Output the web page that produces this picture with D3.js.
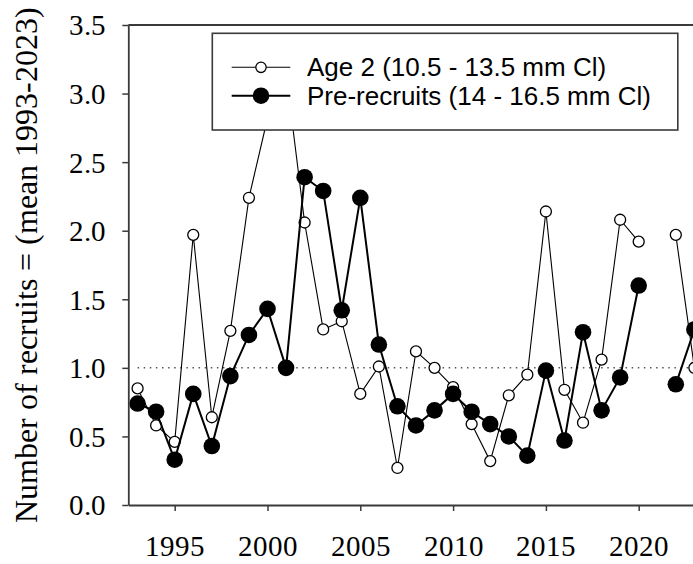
<!DOCTYPE html>
<html>
<head>
<meta charset="utf-8">
<script src="https://cdn.jsdelivr.net/npm/d3@7"></script>
<style>
  @font-face { font-family: "TNRLocal"; src: local("Liberation Serif"), local("LiberationSerif"), local("LiberationSerif-Regular"), local("Times New Roman"), local("DejaVu Serif"), local("DejaVuSerif"), local("Noto Serif"), local("NotoSerif-Regular"); }
  html, body { margin: 0; padding: 0; background: #fff; }
  svg { display: block; }
  .serif, .serif text { font-family: "TNRLocal", "Liberation Serif", "Times New Roman", serif !important; }
  .sans { font-family: "Liberation Sans", Arial, Helvetica, sans-serif; }
</style>
</head>
<body>
<svg id="chart" width="693" height="564"></svg>
<script>
const years = [1993,1994,1995,1996,1997,1998,1999,2000,2001,2002,2003,2004,2005,2006,2007,2008,2009,2010,2011,2012,2013,2014,2015,2016,2017,2018,2019,2020,2021,2022,2023];
const age2 = [0.85,0.58,0.46,1.97,0.64,1.27,2.24,2.82,3.15,2.06,1.28,1.34,0.81,1.01,0.27,1.12,1.00,0.86,0.59,0.32,0.80,0.95,2.14,0.84,0.60,1.06,2.08,1.92,null,1.97,1.00];
const preRecruits = [0.74,0.68,0.33,0.81,0.43,0.94,1.24,1.43,1.00,2.39,2.29,1.42,2.24,1.17,0.72,0.58,0.69,0.81,0.68,0.59,0.50,0.36,0.98,0.47,1.26,0.69,0.93,1.60,null,0.88,1.28];
const xTicks = [1995,2000,2005,2010,2015,2020];
const yTicks = [0,0.5,1.0,1.5,2.0,2.5,3.0,3.5];
const meanLevel = 1.0;
const seriesNames = ["Age 2 (10.5 - 13.5 mm Cl)", "Pre-recruits (14 - 16.5 mm Cl)"];
const yTitle = "Number of recruits = (mean 1993-2023)";

(function () {
const svg = d3.select("#chart");
const mLeft = 128.3, mTop = 25, mBottom = 505;
const x = d3.scaleLinear().domain([1992.5, 2024.5]).range([mLeft, mLeft + 32 * 18.56]);
const y = d3.scaleLinear().domain([0, 3.5]).range([mBottom, mTop]);
const axisColor = "#3a3a3a";

// reference line
svg.append("line")
  .attr("x1", x(years[0])).attr("x2", x(years[years.length - 1]))
  .attr("y1", y(meanLevel)).attr("y2", y(meanLevel))
  .attr("stroke", "#555").attr("stroke-width", 1.5)
  .attr("stroke-dasharray", "1.5,4.6");

const pts = (vals) => years.map((yr, i) => ({yr, v: vals[i]}));
const line = d3.line().defined(d => d.v != null).x(d => x(d.yr)).y(d => y(d.v));

// Age 2
svg.append("path").datum(pts(age2)).attr("d", line)
  .attr("fill", "none").attr("stroke", "#000").attr("stroke-width", 1.1);
svg.append("g").selectAll("circle").data(pts(age2).filter(d => d.v != null)).join("circle")
  .attr("cx", d => x(d.yr)).attr("cy", d => y(d.v)).attr("r", 5.5)
  .attr("fill", "#fff").attr("stroke", "#000").attr("stroke-width", 1.3);

// Pre-recruits
svg.append("path").datum(pts(preRecruits)).attr("d", line)
  .attr("fill", "none").attr("stroke", "#000").attr("stroke-width", 2);
svg.append("g").selectAll("circle").data(pts(preRecruits).filter(d => d.v != null)).join("circle")
  .attr("cx", d => x(d.yr)).attr("cy", d => y(d.v)).attr("r", 8.3)
  .attr("fill", "#000");

// axes
const gy = svg.append("g").attr("class", "serif").attr("transform", `translate(${mLeft},0)`)
  .call(d3.axisLeft(y).tickValues(yTicks).tickFormat(d3.format(".1f")).tickSize(6).tickSizeOuter(0).tickPadding(16));
const gx = svg.append("g").attr("class", "serif").attr("transform", `translate(0,${mBottom})`)
  .call(d3.axisBottom(x).tickValues(xTicks).tickFormat(d3.format("d")).tickSize(6).tickSizeOuter(0));
[gy, gx].forEach(g => {
  g.attr("font-family", null);
  g.select(".domain").attr("stroke", axisColor).attr("stroke-width", 1.8);
  g.selectAll(".tick line").attr("stroke", axisColor).attr("stroke-width", 1.5);
  g.selectAll("text").attr("font-size", 29).attr("fill", "#000");
});
gx.selectAll(".tick text").attr("dy", null).attr("y", 51);
gy.selectAll(".tick text").attr("dy", "0.34em");

// top frame
svg.append("line").attr("x1", mLeft).attr("x2", 703).attr("y1", mTop).attr("y2", mTop)
  .attr("stroke", axisColor).attr("stroke-width", 1.8);

// y title
svg.append("text")
  .attr("class", "serif")
  .attr("transform", `translate(36.5,265) rotate(-90)`)
  .attr("text-anchor", "middle")
  .attr("font-size", 32)
  .text(yTitle);

// legend
const lg = svg.append("g").attr("class", "sans");
lg.append("rect").attr("x", 212.3).attr("y", 33.3).attr("width", 465.5).attr("height", 96.7)
  .attr("fill", "#fff").attr("stroke", axisColor).attr("stroke-width", 1.6);
const rows = [
  {name: seriesNames[0], cy: 67.3, w: 1.1, r: 5.2, fill: "#fff", sw: 1.3},
  {name: seriesNames[1], cy: 95.7, w: 2, r: 8.3, fill: "#000", sw: 0}
];
rows.forEach(rw => {
  lg.append("line").attr("x1", 231.7).attr("x2", 290.3).attr("y1", rw.cy).attr("y2", rw.cy)
    .attr("stroke", "#000").attr("stroke-width", rw.w);
  lg.append("circle").attr("cx", 261).attr("cy", rw.cy).attr("r", rw.r)
    .attr("fill", rw.fill).attr("stroke", "#000").attr("stroke-width", rw.sw);
  lg.append("text").attr("x", 307).attr("y", rw.cy).attr("dy", "0.35em")
    .attr("font-size", 26)
    .text(rw.name);
});
})();
</script>
</body>
</html>
